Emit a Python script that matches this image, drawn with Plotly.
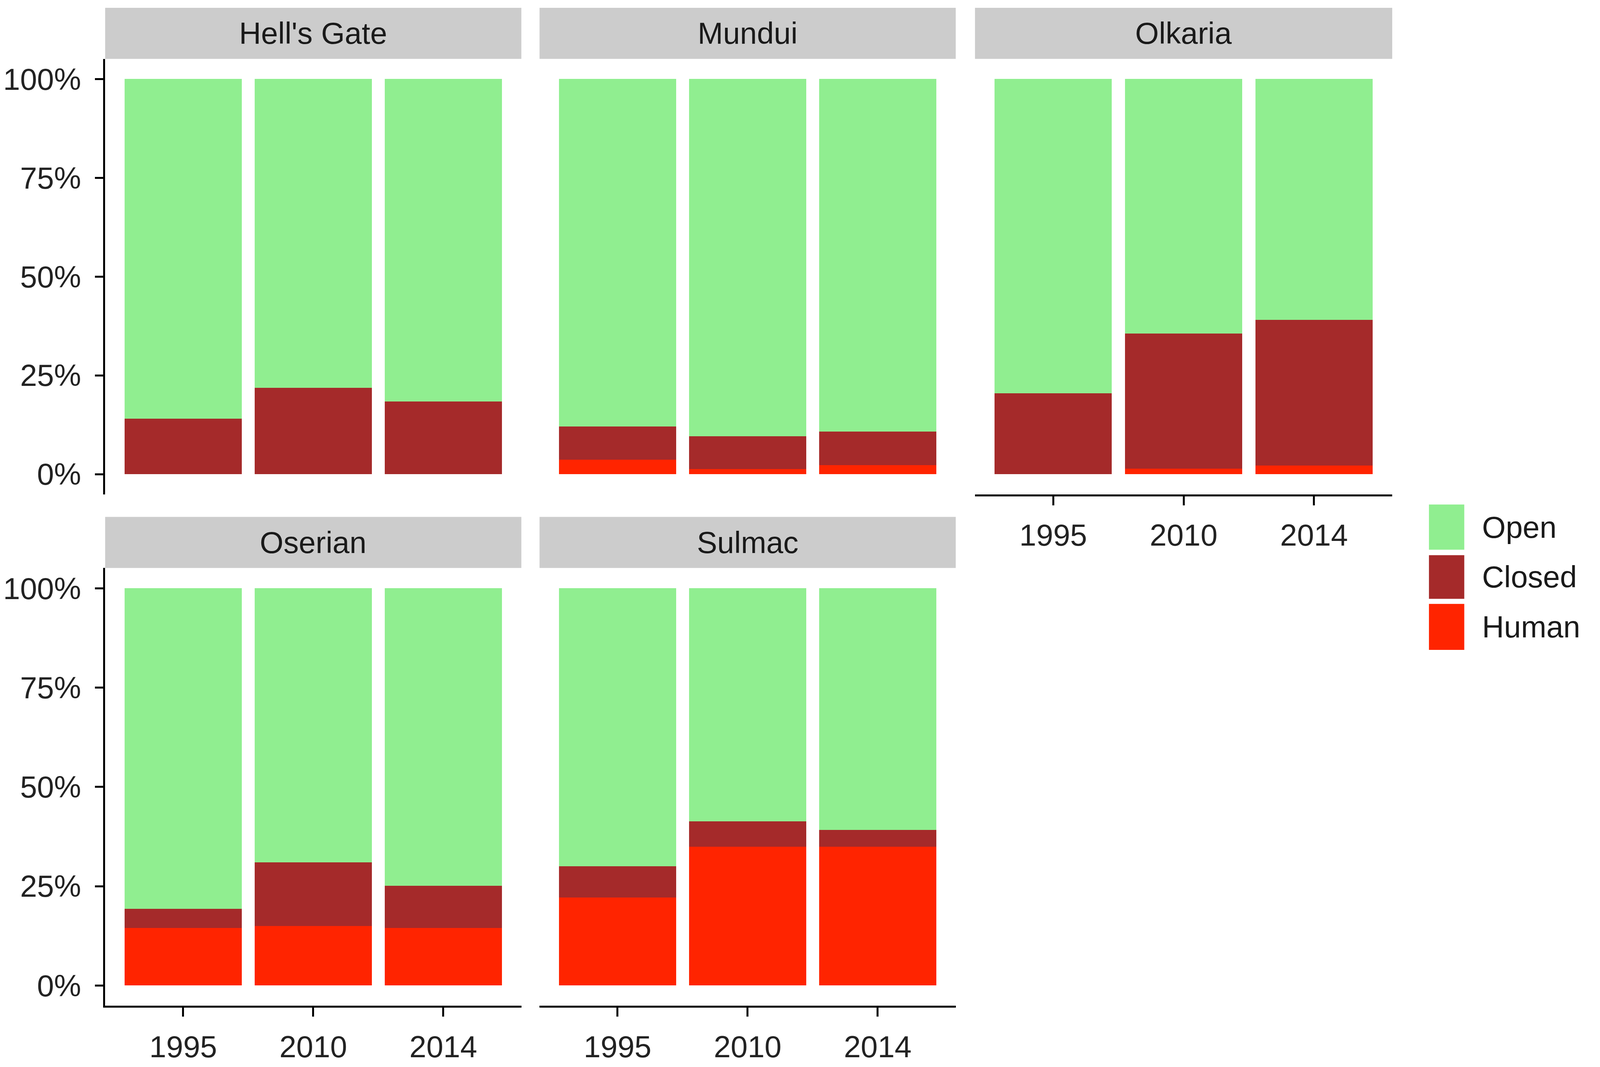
import plotly.graph_objects as go

panels = ["Hell's Gate", "Mundui", "Olkaria", "Oserian", "Sulmac"]
years = ["1995", "2010", "2014"]
categories = ["Human", "Closed", "Open"]  # stacking order bottom -> top
legend_order = ["Open", "Closed", "Human"]

human = {
    "Hell's Gate": [0.0, 0.0, 0.0],
    "Mundui": [3.7, 1.3, 2.3],
    "Olkaria": [0.0, 1.4, 2.2],
    "Oserian": [14.5, 15.0, 14.5],
    "Sulmac": [22.2, 34.9, 34.9],
}
closed = {
    "Hell's Gate": [14.0, 21.9, 18.4],
    "Mundui": [8.4, 8.3, 8.5],
    "Olkaria": [20.5, 34.2, 36.8],
    "Oserian": [4.8, 16.0, 10.6],
    "Sulmac": [7.8, 6.4, 4.3],
}
open_ = {
    "Hell's Gate": [86.0, 78.1, 81.6],
    "Mundui": [87.9, 90.4, 89.2],
    "Olkaria": [79.5, 64.4, 61.0],
    "Oserian": [80.7, 69.0, 74.9],
    "Sulmac": [70.0, 58.7, 60.8],
}
values = {"Human": human, "Closed": closed, "Open": open_}
colors = {"Open": "#90EE90", "Closed": "#A52A2A", "Human": "#FF2400"}

y_tickvals = [0, 25, 50, 75, 100]
y_ticktext = ["0%", "25%", "50%", "75%", "100%"]

# page viewport is 4096 x 2732 with 8px body margin
FIG_W, FIG_H = 4080, 2716
REF_W = 4550
FONT = "Liberation Sans, Arial, sans-serif"
FS = 78

def PX(x):
    return (x / REF_W * 4096 - 8) / FIG_W

def PY(y):
    return 1 - (y - 8) / FIG_H

col_px = [(276, 1466), (1518, 2708), (2763, 3956)]
row_panel_px = [(151, 1268), (1457, 2580)]
row_strip_px = [(20, 151), (1326, 1457)]

fig = go.Figure()
layout = dict(
    width=FIG_W, height=FIG_H,
    margin=dict(l=0, r=0, t=0, b=0),
    paper_bgcolor="white", plot_bgcolor="white",
    barmode="stack", bargap=0.1,
    showlegend=False,
    font=dict(family=FONT, size=FS, color="#1A1A1A"),
)
shapes = []
annotations = []

for i, name in enumerate(panels):
    r, c = divmod(i, 3)
    idx = i + 1
    xa = "x" if idx == 1 else f"x{idx}"
    ya = "y" if idx == 1 else f"y{idx}"
    for cat in categories:
        fig.add_trace(go.Bar(
            x=years, y=values[cat][name], name=cat,
            marker=dict(color=colors[cat], line=dict(width=0)),
            xaxis=xa, yaxis=ya, showlegend=False,
        ))
    x0, x1 = col_px[c]
    py0, py1 = row_panel_px[r]
    show_x = (r == 1) or (name == "Olkaria")
    show_y = (c == 0)
    layout["xaxis" if idx == 1 else f"xaxis{idx}"] = dict(
        domain=[PX(x0), PX(x1)],
        anchor=ya, type="category", range=[-0.6, 2.6],
        showline=show_x, linecolor="black", linewidth=5,
        ticks="outside" if show_x else "", ticklen=23, tickwidth=5, tickcolor="black",
        showticklabels=show_x, tickfont=dict(family=FONT, size=FS, color="#222222"),
        ticklabelstandoff=10,
        showgrid=False, zeroline=False, fixedrange=True,
    )
    layout["yaxis" if idx == 1 else f"yaxis{idx}"] = dict(
        domain=[PY(py1), PY(py0)],
        anchor=xa, range=[-5.1, 105.1],
        showline=show_y, linecolor="black", linewidth=5,
        ticks="outside" if show_y else "", ticklen=21, tickwidth=5, tickcolor="black",
        tickvals=y_tickvals, ticktext=y_ticktext,
        showticklabels=show_y, tickfont=dict(family=FONT, size=FS, color="#222222"),
        ticklabelstandoff=20,
        showgrid=False, zeroline=False, fixedrange=True,
    )
    sy0, sy1 = row_strip_px[r]
    shapes.append(dict(
        type="rect", xref="paper", yref="paper",
        x0=PX(x0), x1=PX(x1), y0=PY(sy1), y1=PY(sy0),
        fillcolor="#CCCCCC", line=dict(width=0), layer="below",
    ))
    annotations.append(dict(
        xref="paper", yref="paper", x=PX((x0 + x1) / 2), y=PY((sy0 + sy1) / 2),
        text=name, showarrow=False, xanchor="center", yanchor="middle",
        font=dict(family=FONT, size=FS, color="#1A1A1A"),
    ))

# legend keys (manual, large squares like ggplot)
key_px = {"Open": (1294, 1410), "Closed": (1424, 1536), "Human": (1549, 1667)}
for cat in legend_order:
    ky0, ky1 = key_px[cat]
    shapes.append(dict(
        type="rect", xref="paper", yref="paper",
        x0=PX(4061), x1=PX(4162), y0=PY(ky1), y1=PY(ky0),
        fillcolor=colors[cat], line=dict(width=0),
    ))
    annotations.append(dict(
        xref="paper", yref="paper", x=PX(4210), y=PY((ky0 + ky1) / 2),
        text=cat, showarrow=False, xanchor="left", yanchor="middle",
        font=dict(family=FONT, size=FS, color="#1A1A1A"),
    ))

layout["shapes"] = shapes
layout["annotations"] = annotations
fig.update_layout(**layout)
fig.write_html("out.html")
